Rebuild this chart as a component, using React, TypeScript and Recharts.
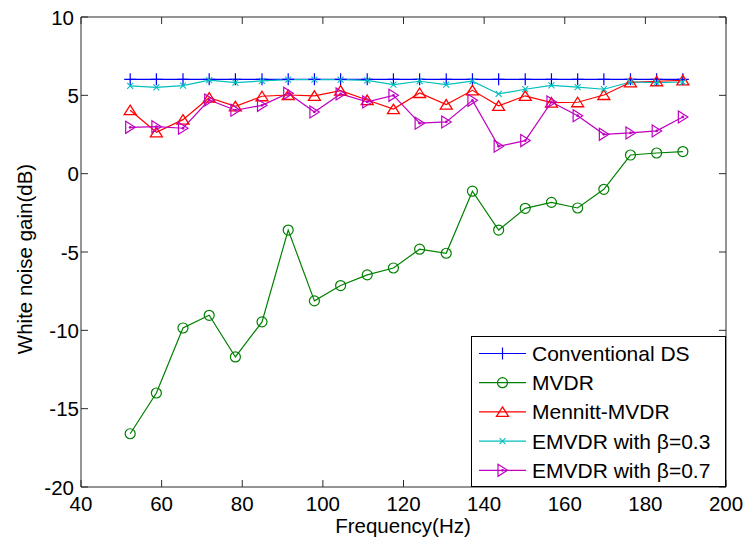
import React from 'react';
import { LineChart, Line, XAxis, YAxis, Legend, ReferenceLine } from 'recharts';

// Frequency bins (Hz)
const frequencies = [
  52.2, 58.7, 65.3, 71.8, 78.3, 84.9, 91.4, 97.9, 104.4, 111.0, 117.5,
  124.0, 130.6, 137.1, 143.6, 150.2, 156.7, 163.2, 169.7, 176.3, 182.8, 189.3,
];

// White noise gain (dB) per beamformer
const conventionalDS = [
  6.02, 6.02, 6.02, 6.02, 6.02, 6.02, 6.02, 6.02, 6.02, 6.02, 6.02,
  6.02, 6.02, 6.02, 6.02, 6.02, 6.02, 6.02, 6.02, 6.02, 6.02, 6.02,
];
const mvdr = [
  -16.6, -14.0, -9.85, -9.04, -11.7, -9.46, -3.6, -8.12, -7.14, -6.46, -6.02,
  -4.82, -5.08, -1.12, -3.6, -2.21, -1.83, -2.19, -1.0, 1.19, 1.32, 1.41,
];
const mennittMvdr = [
  4.05, 2.64, 3.45, 4.85, 4.3, 4.94, 5.02, 4.97, 5.3, 4.7, 4.12,
  5.15, 4.41, 5.32, 4.33, 4.97, 4.54, 4.56, 5.02, 5.83, 5.9, 5.96,
];
const emvdrBeta03 = [
  5.6, 5.51, 5.62, 5.97, 5.81, 5.92, 6.0, 6.0, 6.0, 5.96, 5.69,
  5.9, 5.69, 5.9, 5.09, 5.39, 5.64, 5.53, 5.39, 5.85, 5.81, 5.85,
];
const emvdrBeta07 = [
  2.96, 3.0, 2.9, 4.7, 4.05, 4.36, 5.13, 3.94, 5.09, 4.58, 5.0,
  3.22, 3.3, 4.68, 1.75, 2.11, 4.58, 3.7, 2.51, 2.6, 2.73, 3.62,
];

const xTicks = [40, 60, 80, 100, 120, 140, 160, 180, 200];
const yTicks = [-20, -15, -10, -5, 0, 5, 10];

const seriesNames = [
  'Conventional DS',
  'MVDR',
  'Mennitt-MVDR',
  'EMVDR with \u03b2=0.3',
  'EMVDR with \u03b2=0.7',
];

const data = frequencies.map((f, i) => ({
  f,
  ds: conventionalDS[i],
  mvdr: mvdr[i],
  mennitt: mennittMvdr[i],
  e03: emvdrBeta03[i],
  e07: emvdrBeta07[i],
}));

// Layout
const W = 746;
const H = 544;
const MARGIN = { top: 17, right: 20, left: 0, bottom: 0 };
const Y_AXIS_W = 81;
const X_AXIS_H = 57;
const PLOT_LEFT = MARGIN.left + Y_AXIS_W;
const PLOT_RIGHT = W - MARGIN.right;
const PLOT_TOP = MARGIN.top;
const PLOT_BOTTOM = H - X_AXIS_H;
const TICK_LEN = 7;
const AXIS_COLOR = '#2b2b2b';
const FONT = '"Liberation Sans", Arial, sans-serif';
const FONT_SIZE = 20.5;

const COLORS = {
  ds: '#0000ff',
  mvdr: '#008000',
  mennitt: '#ff0000',
  e03: '#00bfbf',
  e07: '#bf00bf',
};

// Marker glyphs
type MarkerFn = (cx: number, cy: number, color: string, key?: string) => React.ReactElement;

const plusMarker: MarkerFn = (cx, cy, color, key) => (
  <path key={key} d={`M${cx - 6},${cy}H${cx + 6}M${cx},${cy - 6}V${cy + 6}`} stroke={color} strokeWidth={1.2} fill="none" />
);
const circleMarker: MarkerFn = (cx, cy, color, key) => (
  <circle key={key} cx={cx} cy={cy} r={5} stroke={color} strokeWidth={1.2} fill="none" />
);
const triUpMarker: MarkerFn = (cx, cy, color, key) => (
  <path key={key} d={`M${cx},${cy - 5}L${cx + 6},${cy + 4.5}L${cx - 6},${cy + 4.5}Z`} stroke={color} strokeWidth={1.3} fill="none" />
);
const crossMarker: MarkerFn = (cx, cy, color, key) => (
  <path key={key} d={`M${cx - 3},${cy - 3}L${cx + 3},${cy + 3}M${cx - 3},${cy + 3}L${cx + 3},${cy - 3}`} stroke={color} strokeWidth={1.1} fill="none" />
);
const triRightMarker: MarkerFn = (cx, cy, color, key) => (
  <g key={key}>
    <path d={`M${cx - 4.5},${cy - 6}L${cx + 5},${cy}L${cx - 4.5},${cy + 6}Z`} stroke={color} strokeWidth={1.2} fill="none" />
    <circle cx={cx} cy={cy} r={1.4} fill={color} />
  </g>
);

const markers: MarkerFn[] = [plusMarker, circleMarker, triUpMarker, crossMarker, triRightMarker];
const seriesKeys: (keyof typeof COLORS)[] = ['ds', 'mvdr', 'mennitt', 'e03', 'e07'];

const makeDot = (marker: MarkerFn, color: string) => (props: any) => {
  const { cx, cy, index } = props;
  if (cx == null || cy == null) return <g key={`d-${index}`} />;
  return marker(cx, cy, color, `d-${index}`);
};

const XTick = (props: any) => {
  const { x, payload } = props;
  return (
    <g>
      <line x1={x} x2={x} y1={PLOT_BOTTOM} y2={PLOT_BOTTOM - TICK_LEN} stroke={AXIS_COLOR} />
      <line x1={x} x2={x} y1={PLOT_TOP} y2={PLOT_TOP + TICK_LEN} stroke={AXIS_COLOR} />
      <text x={x} y={511} textAnchor="middle" fontFamily={FONT} fontSize={FONT_SIZE} fill="#000">
        {payload.value}
      </text>
    </g>
  );
};

const YTick = (props: any) => {
  const { y, payload } = props;
  const v = payload.value;
  const endX = v === 10 || v === -20 ? 74 : 79;
  return (
    <g>
      <line x1={PLOT_LEFT} x2={PLOT_LEFT + TICK_LEN} y1={y} y2={y} stroke={AXIS_COLOR} />
      <line x1={PLOT_RIGHT} x2={PLOT_RIGHT - TICK_LEN} y1={y} y2={y} stroke={AXIS_COLOR} />
      <text x={endX} y={y + 7.5} textAnchor="end" fontFamily={FONT} fontSize={FONT_SIZE} fill="#000">
        {v}
      </text>
    </g>
  );
};

const LEGEND_LEFT = 471;
const LEGEND_TOP = 336;
const LEGEND_W = PLOT_RIGHT - LEGEND_LEFT;
const LEGEND_H = PLOT_BOTTOM - LEGEND_TOP;

const LegendBox = () => (
  <svg width={LEGEND_W} height={LEGEND_H} style={{ display: 'block' }}>
    <rect x={0.5} y={0.5} width={LEGEND_W - 1} height={LEGEND_H - 1} fill="#fff" stroke="#000" strokeWidth={1} />
    {seriesNames.map((name, i) => {
      const cy = 17.5 + i * 29.2;
      const color = COLORS[seriesKeys[i]];
      return (
        <g key={name}>
          <line x1={8} x2={55} y1={cy} y2={cy} stroke={color} strokeWidth={1.2} />
          {markers[i](31.5, cy, color)}
          <text x={61} y={cy + 7.5} fontFamily={FONT} fontSize={FONT_SIZE + 0.5} fill="#000">
            {name}
          </text>
        </g>
      );
    })}
  </svg>
);

export default function App() {
  return (
    <div style={{ position: 'absolute', left: 0, top: 0, width: W, height: H, background: '#fff' }}>
      <LineChart width={W} height={H} data={data} margin={MARGIN}>
        <XAxis
          dataKey="f"
          type="number"
          domain={[40, 200]}
          ticks={xTicks}
          interval={0}
          height={X_AXIS_H}
          tickLine={false}
          axisLine={{ stroke: AXIS_COLOR }}
          tick={<XTick />}
        />
        <YAxis
          type="number"
          domain={[-20, 10]}
          ticks={yTicks}
          interval={0}
          width={Y_AXIS_W}
          tickLine={false}
          axisLine={{ stroke: AXIS_COLOR }}
          tick={<YTick />}
        />
        <ReferenceLine y={10} stroke={AXIS_COLOR} />
        <ReferenceLine x={200} stroke={AXIS_COLOR} />
        {seriesKeys.map((k, i) => (
          <Line
            key={k}
            dataKey={k}
            name={seriesNames[i]}
            stroke={COLORS[k]}
            strokeWidth={1.2}
            dot={makeDot(markers[i], COLORS[k])}
            activeDot={false}
            isAnimationActive={false}
          />
        ))}
        <Legend
          layout="vertical"
          align="center"
          verticalAlign="middle"
          content={() => <LegendBox />}
          wrapperStyle={{ left: LEGEND_LEFT, top: LEGEND_TOP, width: LEGEND_W, height: LEGEND_H }}
        />
        <text x={403} y={533} textAnchor="middle" fontFamily={FONT} fontSize={FONT_SIZE} fill="#000">
          Frequency(Hz)
        </text>
        <text
          x={0}
          y={0}
          transform={`translate(32, 259) rotate(-90)`}
          textAnchor="middle"
          fontFamily={FONT}
          fontSize={FONT_SIZE}
          fill="#000"
        >
          White noise gain(dB)
        </text>
      </LineChart>
    </div>
  );
}
